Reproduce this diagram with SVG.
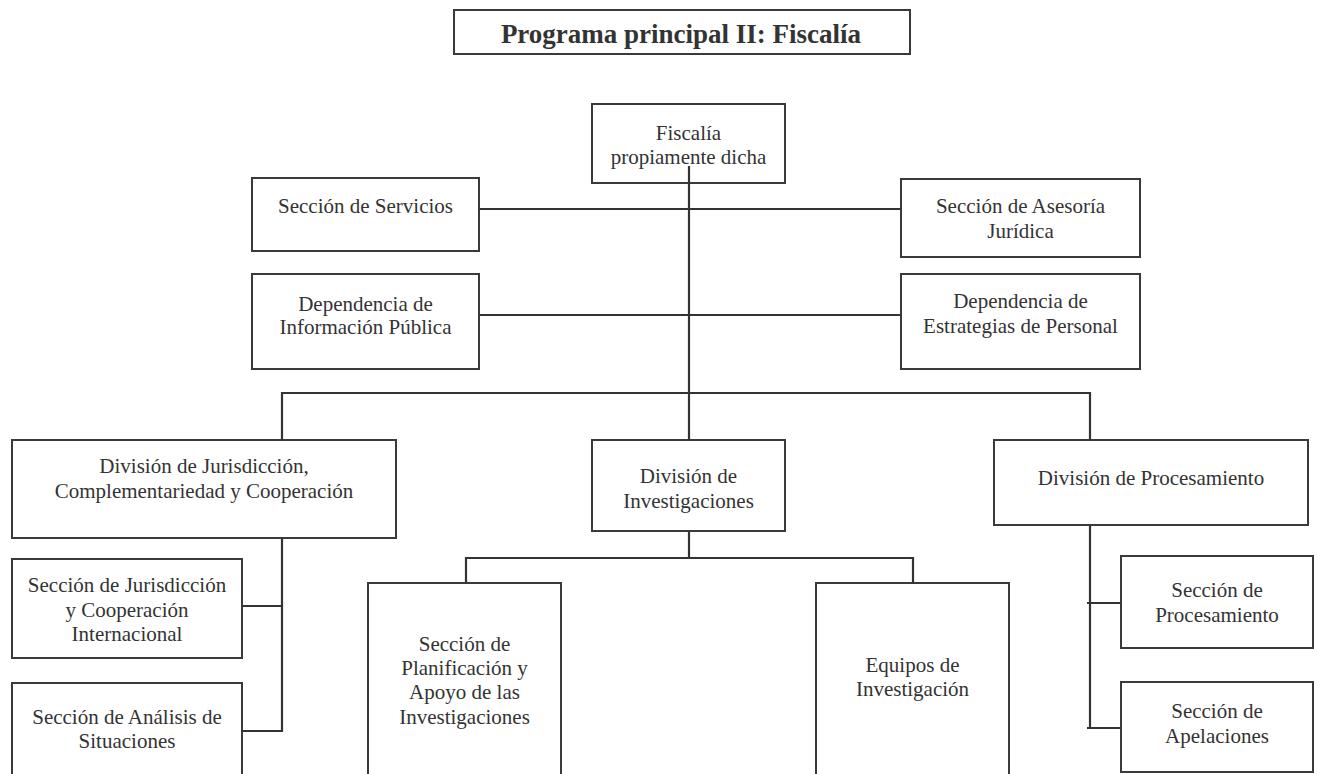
<svg xmlns="http://www.w3.org/2000/svg" width="1318" height="774" viewBox="0 0 1318 774">
<style>
.box{fill:#fff;stroke:#3a3a3a;stroke-width:2}
.t{font-family:"Liberation Serif","Times New Roman",serif;font-size:21px;fill:#333;text-anchor:middle}
.title{font-family:"Liberation Serif","Times New Roman",serif;font-size:27px;font-weight:bold;fill:#333;text-anchor:middle}
.c line{stroke:#333;stroke-width:2.2}
</style>
<rect width="1318" height="774" fill="#fff"/>
<g id="title">
<rect class="box" x="454" y="10" width="456" height="44"/>
<text class="title" x="681" y="43">Programa principal II: Fiscalía</text>
</g>
<g id="fiscalia">
<rect class="box" x="592" y="104" width="193" height="79"/>
<text class="t" x="688.5" y="140">Fiscalía</text>
<text class="t" x="688.5" y="164">propiamente dicha</text>
</g>
<g id="servicios">
<rect class="box" x="252" y="178" width="227" height="73"/>
<text class="t" x="365.5" y="213">Sección de Servicios</text>
</g>
<g id="asesoria">
<rect class="box" x="901" y="179" width="239" height="78"/>
<text class="t" x="1020.5" y="213">Sección de Asesoría</text>
<text class="t" x="1020.5" y="238">Jurídica</text>
</g>
<g id="informacion">
<rect class="box" x="252" y="274" width="227" height="95"/>
<text class="t" x="365.5" y="311">Dependencia de</text>
<text class="t" x="365.5" y="334">Información Pública</text>
</g>
<g id="estrategias">
<rect class="box" x="901" y="274" width="239" height="95"/>
<text class="t" x="1020.5" y="308">Dependencia de</text>
<text class="t" x="1020.5" y="333">Estrategias de Personal</text>
</g>
<g id="jurisdiccion">
<rect class="box" x="12" y="440" width="384" height="98"/>
<text class="t" x="204" y="473">División de Jurisdicción,</text>
<text class="t" x="204" y="498">Complementariedad y Cooperación</text>
</g>
<g id="investigaciones">
<rect class="box" x="592" y="440" width="193" height="91"/>
<text class="t" x="688.5" y="483">División de</text>
<text class="t" x="688.5" y="508">Investigaciones</text>
</g>
<g id="procesamiento">
<rect class="box" x="994" y="440" width="314" height="85"/>
<text class="t" x="1151" y="485">División de Procesamiento</text>
</g>
<g id="jurcoop">
<rect class="box" x="12" y="559" width="230" height="99"/>
<text class="t" x="127" y="592">Sección de Jurisdicción</text>
<text class="t" x="127" y="617">y Cooperación</text>
<text class="t" x="127" y="641">Internacional</text>
</g>
<g id="analisis">
<rect class="box" x="12" y="683" width="230" height="100"/>
<text class="t" x="127" y="724">Sección de Análisis de</text>
<text class="t" x="127" y="748">Situaciones</text>
</g>
<g id="planificacion">
<rect class="box" x="368" y="583" width="193" height="200"/>
<text class="t" x="464.5" y="651">Sección de</text>
<text class="t" x="464.5" y="675">Planificación y</text>
<text class="t" x="464.5" y="699">Apoyo de las</text>
<text class="t" x="464.5" y="724">Investigaciones</text>
</g>
<g id="equipos">
<rect class="box" x="816" y="583" width="193" height="200"/>
<text class="t" x="912.5" y="672">Equipos de</text>
<text class="t" x="912.5" y="696">Investigación</text>
</g>
<g id="secproc">
<rect class="box" x="1121" y="556" width="192" height="92"/>
<text class="t" x="1217" y="597">Sección de</text>
<text class="t" x="1217" y="622">Procesamiento</text>
</g>
<g id="apelaciones">
<rect class="box" x="1121" y="682" width="192" height="90"/>
<text class="t" x="1217" y="718">Sección de</text>
<text class="t" x="1217" y="743">Apelaciones</text>
</g>
<g id="connectors" class="c">
<line x1="689" y1="166" x2="689" y2="440"/>
<line x1="479" y1="209" x2="901" y2="209"/>
<line x1="479" y1="315" x2="901" y2="315"/>
<line x1="281" y1="393" x2="1091" y2="393"/>
<line x1="282" y1="392" x2="282" y2="440"/>
<line x1="1090" y1="392" x2="1090" y2="440"/>
<line x1="282" y1="538" x2="282" y2="732"/>
<line x1="242" y1="606" x2="283" y2="606"/>
<line x1="242" y1="731" x2="283" y2="731"/>
<line x1="689" y1="531" x2="689" y2="558"/>
<line x1="465" y1="558" x2="914" y2="558"/>
<line x1="466" y1="557" x2="466" y2="583"/>
<line x1="913" y1="557" x2="913" y2="583"/>
<line x1="1090" y1="525" x2="1090" y2="729"/>
<line x1="1087" y1="603" x2="1121" y2="603"/>
<line x1="1087" y1="728" x2="1121" y2="728"/>
</g>
</svg>
